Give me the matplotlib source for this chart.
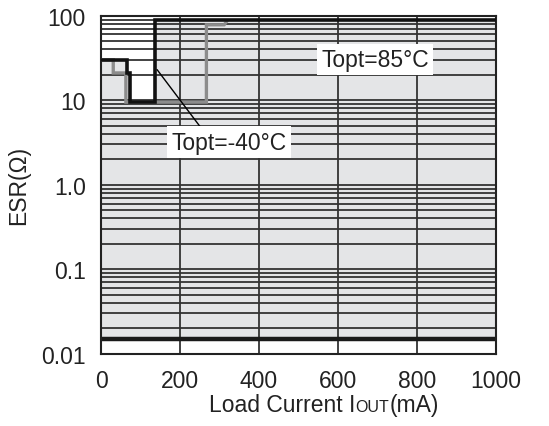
import matplotlib
matplotlib.use("Agg")
import matplotlib.pyplot as plt
from matplotlib.offsetbox import TextArea, HPacker, AnchoredOffsetbox

plt.rcParams["font.family"] = ["Liberation Sans", "DejaVu Sans"]

# stable-region boundaries (ESR vs load current)
cold_x = [0, 65, 65, 73, 73, 138, 138, 1000]
cold_y = [30, 30, 21, 21, 9.5, 9.5, 90, 90]
hot_x = [0, 31, 31, 63, 63, 267, 267, 312, 318]
hot_y = [30, 30, 21, 21, 9.5, 9.5, 78, 78, 85]
esr_min = 0.015

x_ticks = [0, 200, 400, 600, 800, 1000]
y_ticks = [0.01, 0.1, 1.0, 10, 100]
y_ticklabels = ["0.01", "0.1", "1.0", "10", "100"]

FS = 16.5

fig = plt.figure(figsize=(5.49, 4.27), dpi=100)
ax = fig.add_axes([0.184, 0.169, 0.719, 0.792])
ax.set_yscale("log")
ax.set_xlim(0, 1000)
ax.set_ylim(0.01, 100)

# shaded stable region
ax.fill_between(cold_x, esr_min, cold_y, color="#e4e5e7", lw=0, zorder=0)

# grid: every minor decade step + every 200 mA
for dec in [0.01, 0.1, 1, 10]:
    for m in range(1, 10):
        ax.axhline(dec * m, color="#333333", lw=1.3, zorder=1)
for xv in x_ticks[1:-1]:
    ax.axvline(xv, color="#333333", lw=1.3, zorder=1)
ax.axhline(esr_min, color="#1a1a1a", lw=3.2, zorder=2)

ax.plot(hot_x, hot_y, color="#8c8c8c", lw=2.4, zorder=3, solid_joinstyle="miter")
ax.plot(cold_x, cold_y, color="#111111", lw=2.6, zorder=4, solid_joinstyle="miter")

lab = dict(fontsize=FS, ha="center", va="center", zorder=6, color="#222222",
           bbox=dict(fc="white", ec="none", pad=3))
ax.text(694, 30, "Topt=85°C", **lab)
ax.text(324, 3.2, "Topt=-40°C", **lab)
ax.annotate("", xy=(142, 23), xytext=(255, 4.6),
            arrowprops=dict(arrowstyle="-", color="black", lw=1.0,
                            shrinkA=0, shrinkB=0), zorder=5)

ax.set_xticks(x_ticks)
ax.set_yticks(y_ticks)
ax.set_yticklabels(y_ticklabels)
ax.minorticks_off()
ax.tick_params(length=0, labelsize=FS, pad=11, colors="#222222")
for s in ax.spines.values():
    s.set_linewidth(1.5)
    s.set_color("#222222")

ax.set_ylabel("ESR(Ω)", fontsize=FS, labelpad=8, color="#222222")

parts = [TextArea("Load Current I", textprops=dict(fontsize=FS, color="#222222")),
         TextArea("OUT", textprops=dict(fontsize=11.5, color="#222222")),
         TextArea("(mA)", textprops=dict(fontsize=FS, color="#222222"))]
box = HPacker(children=parts, align="baseline", pad=0, sep=0)
anchored = AnchoredOffsetbox(loc="upper center", child=box, frameon=False,
                             bbox_to_anchor=(0.565, -0.1),
                             bbox_transform=ax.transAxes, borderpad=0)
ax.add_artist(anchored)

fig.savefig("out.png", dpi=100)
